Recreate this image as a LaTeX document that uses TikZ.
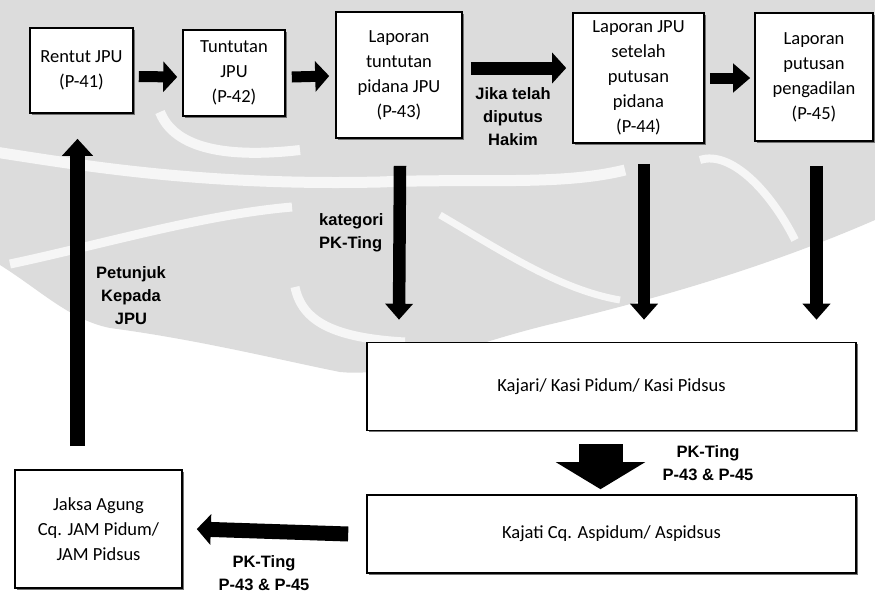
\documentclass[tikz,border=0pt]{standalone}
\usepackage{fontspec}
\setmainfont{Carlito}
\newfontfamily\lblfont{Liberation Sans}
\usetikzlibrary{arrows.meta,shadows,calc}

\definecolor{wmgray}{RGB}{220,220,220}

\tikzset{
  box/.style={draw=black, line width=1.6pt, fill=white, align=center,
    inner sep=0pt, font=\fontsize{18.5}{25}\selectfont,
    general shadow={fill=black!55, shadow xshift=1.5pt, shadow yshift=-1.5pt}},
  lbl/.style={font=\lblfont\bfseries\fontsize{16.5}{23}\selectfont, align=center, inner sep=0pt},
  thin arrow/.style={line width=11pt, -{Triangle[length=14pt,width=30pt]}},
  down arrow/.style={line width=12.5pt, -{Triangle[length=16pt,width=27pt]}},
  up arrow/.style={line width=15pt, -{Triangle[length=17pt,width=30pt]}},
  big arrow/.style={line width=44pt, -{Triangle[length=27pt,width=88pt]}},
  wmband/.style={white, opacity=0.75, line width=9pt},
}

\begin{document}
\begin{tikzpicture}[x=1pt, y=-1pt]
\useasboundingbox (0,0) rectangle (875,595);

% faint emblem in the background
\fill[wmgray] (0,0) -- (875,0) -- (875,220)
  .. controls (760,270) and (650,300) .. (560,322)
  .. controls (460,345) and (400,378) .. (340,372)
  .. controls (280,360) and (200,340) .. (110,328)
  .. controls (70,320) and (40,290) .. (0,265) -- cycle;
\draw[wmband, line width=11pt] (-5,152) .. controls (80,165) and (200,186) .. (380,182)
  .. controls (480,178) and (560,186) .. (625,170);
\draw[wmband] (10,264) .. controls (100,245) and (200,215) .. (292,207);
\draw[wmband] (295,287) .. controls (302,322) and (335,338) .. (405,342);
\draw[wmband, line width=7pt] (440,215) .. controls (500,250) and (560,290) .. (620,300);
\draw[wmband, line width=10pt] (160,112) .. controls (175,150) and (230,158) .. (300,150);
\draw[wmband, line width=8pt] (700,160) .. controls (730,150) and (770,190) .. (795,240);

% process boxes along the top row
\node[box, minimum width=103pt, minimum height=85pt] (rentut) at (81.5,70.5)
  {Rentut JPU\\(P-41)};
\node[box, minimum width=102pt, minimum height=86pt] (tuntutan) at (234,73)
  {Tuntutan\\JPU\\(P-42)};
\node[box, minimum width=126pt, minimum height=126pt] (lap43) at (399,75)
  {Laporan\\tuntutan\\pidana JPU\\(P-43)};
\node[box, minimum width=131pt, minimum height=130pt] (lap44) at (638.5,78)
  {Laporan JPU\\setelah\\putusan\\pidana\\(P-44)};
\node[box, minimum width=118pt, minimum height=128pt] (lap45) at (814,77)
  {Laporan\\putusan\\pengadilan\\(P-45)};

% supervising offices
\node[box, minimum width=489pt, minimum height=88pt] (kajari) at (611.5,386.5)
  {Kajari/ Kasi Pidum/ Kasi Pidsus};
\node[box, minimum width=489pt, minimum height=78pt] (kajati) at (611.5,534)
  {Kajati Cq. Aspidum/ Aspidsus};
\node[box, minimum width=167pt, minimum height=118pt] (jaksa) at (98.5,529)
  {Jaksa Agung\\Cq. JAM Pidum/\\JAM Pidsus};

% horizontal flow between the top boxes
\draw[thin arrow] ([xshift=5pt,yshift=-6pt]rentut.east) -- ([xshift=-5pt,yshift=-4pt]tuntutan.west);
\draw[thin arrow] ([xshift=6pt,yshift=-4pt]tuntutan.east) -- ([xshift=-6pt,yshift=-1pt]lap43.west);
\draw[thin arrow, line width=13pt] ([xshift=8pt,yshift=7pt]lap43.east) -- ([xshift=-6pt,yshift=10pt]lap44.west);
\draw[thin arrow, -{Triangle[length=17pt,width=28pt]}] ([xshift=5pt,yshift=0pt]lap44.east) -- ([xshift=-4pt,yshift=-1pt]lap45.west);

% reports going down to the Kajari
\draw[down arrow] ([xshift=1pt,yshift=-27pt]lap43.south) -- ([yshift=22pt]lap43.south |- kajari.north);
\draw[down arrow] ([xshift=5.5pt,yshift=-20pt]lap44.south) -- ([xshift=5.5pt,yshift=22pt]lap44.south |- kajari.north);
\draw[down arrow] ([xshift=2.5pt,yshift=-24pt]lap45.south) -- ([xshift=2.5pt,yshift=22pt]lap45.south |- kajari.north);

% escalation downwards and back to the JPU
\draw[big arrow] ([xshift=-11pt,yshift=-13pt]kajari.south) -- ([xshift=-11pt,yshift=5pt]kajari.south |- kajati.north);
\draw[up arrow, -{Triangle[length=14pt,width=30pt]}] ([xshift=-18pt]kajati.west) -- ([xshift=14pt]jaksa.east);
\draw[up arrow] ([xshift=-21pt,yshift=23pt]jaksa.north) -- ([xshift=-21pt,yshift=-25pt]jaksa.north |- rentut.south);

% labels
\node[lbl] (jika) at (513,117) {Jika telah\\diputus\\Hakim};
\node[lbl, align=left, anchor=west] (kat) at (319,233) {kategori\\PK-Ting};
\node[lbl] (petunjuk) at (131,296) {Petunjuk\\Kepada\\JPU};
\node[lbl] (pk1) at (708,463) {PK-Ting\\P-43 \& P-45};
\node[lbl] (pk2) at (264,573) {PK-Ting\\P-43 \& P-45};
\end{tikzpicture}
\end{document}
